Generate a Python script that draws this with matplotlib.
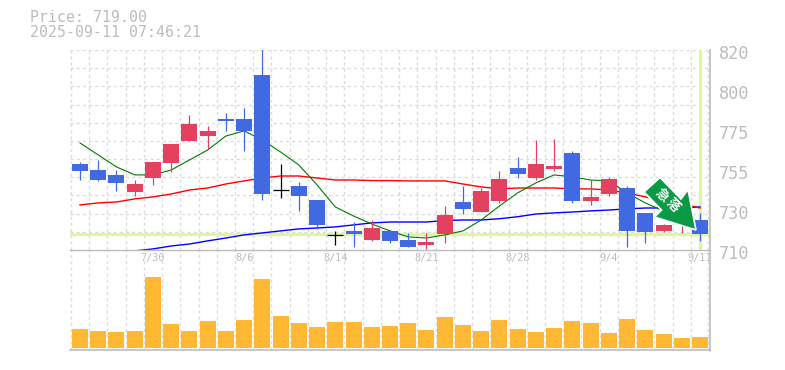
import numpy as np
import matplotlib
matplotlib.use("Agg")
import matplotlib.pyplot as plt
from matplotlib.patches import Polygon

nan = float("nan")
opens = [757.3,754,751.3,741.9,749.6,757.9,770,772.7,782,782,806.3,743,745.2,737.5,718.1,720.5,715.5,720.5,715.5,712.8,718.8,736.4,730.9,737,755.1,749.6,754.6,763.4,737,740.8,744.1,730.4,720.5,726,726.5]
closes = [753.5,748.5,746.9,746.3,758.4,768.3,779.3,775.5,781,775.5,740.8,743,739.7,723.8,718.1,718.8,722.1,715,711.7,714.4,729.3,732.6,742.5,749,751.8,757.3,756.2,737,739.2,749,720.5,719.9,723.8,730,719]
highs = [758.2,759.5,754,748.5,758.4,768.3,784.3,778.2,785.4,788.1,830,757.3,747.4,737.5,720.5,725.4,726.5,721,719.4,719.4,734.2,745.2,744.1,753.5,761.2,770.5,771.1,764.5,748.5,750.2,745.2,730.4,724.5,732,730.4]
lows = [748.5,748,742.5,739.7,745.8,752.9,770,765.6,775.5,764.5,737.5,738.6,731.5,721.6,712.8,711.7,715,713.9,711.7,710.6,713.9,729.8,730.9,735.9,749.6,748.5,753.5,735.9,734.8,739.7,711.7,713.9,720,719.5,715]
ma_short = [768.9,762.3,755.7,751.3,751.3,754,759.5,765,772.7,775.5,770.5,763.9,756.8,745.8,733.7,728.7,724.3,720.5,717.2,716.6,718.3,720.5,726.5,734.2,741.4,746.9,751.3,750.2,748.5,748,741.4,735.9,731.5,727.6,721.6]
ma_mid = [734.8,735.9,736.4,738.1,739.2,740.8,743,744.1,746.3,748,749.6,750.7,750.7,749.6,748.5,748.5,748.2,748.2,748,748,748,746.3,744.7,743.6,744.1,744.1,744.1,743.6,743.6,743,741.4,739.2,737,735.3,733.1]
ma_long = [nan,nan,nan,709.5,710.6,712.2,713.3,715,716.6,718.3,719.4,720.5,721.6,722.1,722.7,723.8,724.9,725.4,725.4,725.4,726.2,726.5,726.5,727.2,728.3,729.8,730.4,730.9,731.5,732,732.6,733.1,733.1,733.1,733.7]
volumes = [19,17,16,17,71,24,17,27,17,28,69,32,25,21,26,26,21,22,25,18,31,23,17,28,19,16,20,27,25,15,29,18,14,10,11]
date_pos = [4,9,14,19,24,29,34]
date_labels = ["7/30","8/6","8/14","8/21","8/28","9/4","9/11"]
price_ticks = [710,732,754,776,798,820]
price_labels = ["710","730","755","775","800","820"]
current_price = 719.0
title_lines = ["Price: 719.00", "2025-09-11 07:46:21"]
badge_label = ["急","落"]

W, H = 785, 370
GREY = "#bcbcbc"
GRID = "#dcdcdc"
UP = "#e2425f"
DOWN = "#4169e1"
HILITE = "#def69c"
ONE_PX = 0.72

fig = plt.figure(figsize=(W/100, H/100), dpi=100, facecolor="white")
def rect(l, t, r, b):
    return [l/W, 1-b/H, (r-l)/W, (b-t)/H]
ax = fig.add_axes(rect(70, 50, 710, 250))
vol = fig.add_axes(rect(70, 250, 710, 350))
vol.patch.set_visible(False)
def px(x, y):
    return (x/W, 1-y/H)

n = len(opens)
idx = np.arange(n)
xlim = (-0.548, n-1+0.548)
bw = 0.877

for a in (ax, vol):
    a.set_xlim(*xlim)
    for s in a.spines.values():
        s.set_visible(False)
    a.set_axisbelow(True)
    a.tick_params(length=0)
    for g in idx:
        a.axvline(g-0.5, color=GRID, lw=ONE_PX*1.4, ls=(0, (2.2, 2.2)), zorder=0)
    a.axvline(n-1+0.45, color=GRID, lw=ONE_PX*1.4, ls=(0, (2.2, 2.2)), zorder=0)

ax.set_ylim(710, 820)
for g in range(720, 821, 10):
    ax.axhline(g, color=GRID, lw=ONE_PX*1.4, ls=(0, (2.2, 2.2)), zorder=0)
ax.set_yticks([])
ax.set_xticks(date_pos)
ax.set_xticklabels(date_labels, family="DejaVu Sans Mono", fontsize=7.4, color=GREY)
ax.tick_params(axis="x", pad=2.5)
for p, l in zip(price_ticks, price_labels):
    ax.annotate(l, xy=(1, p), xycoords=("axes fraction", "data"), xytext=(9, -4),
                textcoords="offset pixels", ha="left", va="center",
                family="DejaVu Sans Mono", fontsize=12.2, color=GREY, annotation_clip=False)

# highlight lines for current price / latest day
ax.axhline(current_price, color=HILITE, lw=2.3, zorder=1)
ax.axvline(n-1, color=HILITE, lw=2.3, zorder=1, ymin=0.01)

ax.plot(idx, ma_long, color="#0000ff", lw=1.0, zorder=2)
ax.plot(idx, ma_mid, color="#ff0000", lw=1.0, zorder=2)
ax.plot(idx, ma_short, color="#007a00", lw=0.8, zorder=2)

for i in idx:
    o, c, h, l = opens[i], closes[i], highs[i], lows[i]
    col = "black" if o == c else (UP if c > o else DOWN)
    ax.vlines(i, l, h, color=col, lw=0.9, zorder=3)
    if o == c:
        ax.hlines(o, i-bw/2, i+bw/2, color=col, lw=0.9, zorder=3)
    else:
        ax.bar(i, abs(c-o), bottom=min(o, c), width=bw, color=col, lw=0, zorder=3)

vol.set_ylim(-2, 98)
vol.set_xticks([]); vol.set_yticks([])
vol.bar(idx, volumes, width=bw, color="#ffb833", lw=0, zorder=3)

# frame lines
vol.axhline(98, color=GREY, lw=1.0, zorder=4, clip_on=False)
vol.axhline(-2, color=GREY, lw=1.2, zorder=4, clip_on=False)
fig.add_artist(plt.Line2D([710/W, 710/W], [1-50/H, 1-351/H], color=GREY, lw=1.2))

# titles
for t, y in zip(title_lines, (18, 32.5)):
    fig.text(30/W, 1-y/H, t, family="DejaVu Sans Mono", fontsize=10.7, color=GREY, ha="left", va="center")

# badge
arrow = [(660,177.5),(644,192),(661.5,210),(654.5,217),(696,230),(688,189.5),(681,199)]
fig.add_artist(Polygon([px(*p) for p in arrow], closed=True, transform=fig.transFigure,
                       facecolor="#0a9944", edgecolor="white", lw=1.2, joinstyle="miter", zorder=10))
for ch, (x, y) in zip(badge_label, [(661.5,195.5),(672.5,205.5)]):
    fig.text(x/W, 1-y/H, ch, family=["Noto Sans CJK JP","DejaVu Sans"], fontsize=9.5, fontweight="bold",
             color="white", rotation=-45, rotation_mode="anchor", ha="center", va="center", zorder=11)

fig.savefig("out.png", dpi=100, facecolor="white")
